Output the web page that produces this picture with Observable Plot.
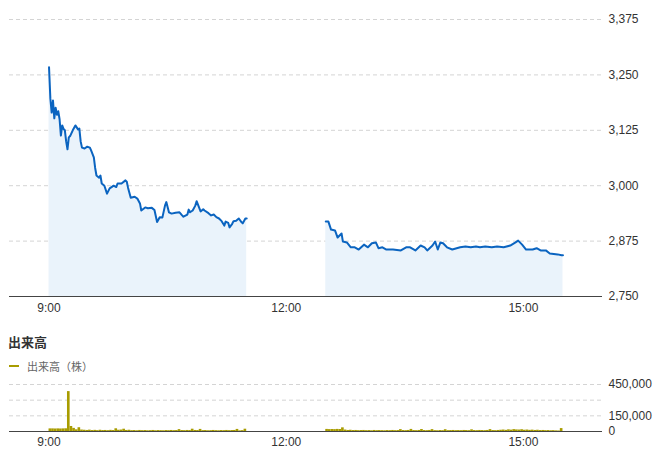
<!DOCTYPE html>
<html><head><meta charset="utf-8">
<script src="https://cdn.jsdelivr.net/npm/d3@7"></script>
<script src="https://cdn.jsdelivr.net/npm/@observablehq/plot@0.6"></script>
<style>
body{margin:0;background:#fff;font-family:Arial,"Liberation Sans","Noto Sans CJK JP",sans-serif;}
#wrap{position:relative;width:660px;height:456px;overflow:hidden}
#price{position:absolute;left:0;top:0}
#vtitle{position:absolute;left:8px;top:334px;font-size:13px;line-height:16px;font-weight:bold;color:#333;font-family:"Noto Sans CJK JP",sans-serif}
#legend{position:absolute;left:9px;top:359px;font-size:11px;line-height:14px;color:#666;font-family:"Noto Sans CJK JP",sans-serif;display:flex;align-items:center}
#legend .sw{display:inline-block;width:10px;height:2px;background:#a89c00;margin-right:8px}
#vol{position:absolute;left:0;top:372px}
</style></head>
<body><div id="wrap">
<div id="price"></div>
<div id="vtitle">出来高</div>
<div id="legend"><span class="sw"></span><span>出来高（株）</span></div>
<div id="vol"></div>
</div>
<script>
// ---- data ----
const amTimes = ["9:00","9:01","9:02","9:03","9:04","9:05","9:06","9:07","9:08","9:09","9:10","9:11","9:12","9:13","9:14","9:15","9:16","9:18","9:20","9:22","9:23","9:24","9:25","9:27","9:29","9:31","9:32","9:34","9:35","9:36","9:38","9:39","9:40","9:42","9:44","9:46","9:48","9:49","9:51","9:52","9:55","9:58","9:59","10:00","10:02","10:05","10:07","10:09","10:10","10:13","10:15","10:18","10:20","10:22","10:24","10:26","10:28","10:29","10:31","10:33","10:36","10:39","10:41","10:42","10:45","10:46","10:47","10:49","10:51","10:52","10:55","10:57","10:58","11:01","11:03","11:05","11:07","11:09","11:11","11:13","11:14","11:16","11:17","11:19","11:20","11:22","11:24","11:26","11:27","11:29","11:30"];
const amPrices = [3267,3197,3165,3192,3152,3176,3160,3168,3150,3113,3136,3128,3125,3100,3082,3109,3112,3125,3136,3127,3129,3100,3086,3084,3088,3086,3079,3064,3040,3023,3018,3023,3005,3000,2982,2994,2998,3000,2997,3005,3005,3012,3009,2995,2973,2975,2971,2960,2944,2951,2949,2950,2945,2918,2929,2928,2955,2963,2940,2937,2939,2940,2933,2930,2935,2946,2940,2944,2955,2965,2942,2947,2944,2938,2933,2935,2929,2926,2920,2910,2919,2916,2906,2914,2920,2921,2926,2918,2915,2926,2926];
const pmTimes = ["12:30","12:32","12:34","12:37","12:39","12:42","12:43","12:46","12:49","12:52","12:55","12:59","13:02","13:05","13:08","13:10","13:13","13:16","13:21","13:27","13:31","13:34","13:38","13:42","13:45","13:47","13:51","13:53","13:55","13:57","13:59","14:02","14:06","14:12","14:16","14:20","14:24","14:27","14:31","14:36","14:40","14:45","14:50","14:54","14:56","14:59","15:02","15:07","15:10","15:13","15:17","15:20","15:26","15:29","15:30"];
const pmPrices = [2919,2919,2901,2899,2883,2892,2874,2872,2861,2861,2856,2867,2861,2870,2872,2859,2861,2856,2856,2854,2861,2861,2854,2865,2861,2854,2865,2874,2856,2872,2870,2861,2856,2861,2863,2861,2863,2861,2863,2861,2863,2861,2865,2872,2876,2867,2856,2856,2859,2854,2854,2847,2845,2843,2843];
const priceTicks = [2750,2875,3000,3125,3250,3375];
const timeTicks = ["9:00","12:00","15:00"];
// volume in thousands of shares, one value per 2-minute slot
const amVolStart = "9:00";
const amVol = [25,25,24,25,24,25,26,382,48,30,16,36,14,12,10,13,9,11,8,12,9,10,8,11,9,26,12,14,22,10,12,8,9,7,10,8,9,7,8,10,7,9,8,7,9,8,10,8,9,18,9,8,10,9,22,10,9,20,8,9,7,8,10,8,7,9,8,10,8,9,10,20,6,8,22];
const pmVolStart = "12:30";
const pmVol = [20,18,19,18,20,19,35,14,10,12,9,10,8,9,10,8,9,7,10,8,9,8,7,9,8,10,8,9,18,9,8,10,20,9,8,10,19,9,8,10,18,8,7,9,8,17,8,9,10,8,9,8,10,9,8,16,9,8,10,9,8,10,18,9,8,10,12,14,11,16,13,18,15,14,17,12,14,11,13,10,12,9,10,8,9,7,8,6,5,28];
const volTicks = [0,150000,450000];
const volGrid = [150000,300000,450000];

// ---- build ----
const parse = d3.timeParse("%H:%M");
const fmtT = d3.timeFormat("%-H:%M");
const price = [
  ...amTimes.map((t,i)=>({t:parse(t),p:amPrices[i],s:"am"})),
  ...pmTimes.map((t,i)=>({t:parse(t),p:pmPrices[i],s:"pm"}))
];
const mkVol = (start, arr) => arr.map((v,i)=>{
  const t = d3.timeMinute.offset(parse(start), 2*i);
  return {t, t2:d3.timeMinute.offset(t,2), v:v*1000};
});
const vol = [...mkVol(amVolStart, amVol), ...mkVol(pmVolStart, pmVol)];
const xDomain = [parse("8:30"), parse("16:00")];
const style = {fontFamily:'Arial,"Liberation Sans",sans-serif', fontSize:"12px", color:"#333", background:"transparent"};

const p1 = Plot.plot({
  width:660, height:318, marginLeft:9, marginRight:58, marginTop:19, marginBottom:22, style,
  x:{type:"time", domain:xDomain},
  y:{domain:[2750,3375]},
  marks:[
    Plot.gridY(priceTicks, {stroke:"#d4d4d4", strokeOpacity:1, strokeDasharray:"4,3"}),
    Plot.areaY(price, {x:"t", y1:2750, y2:"p", z:"s", fill:"#eaf3fb", curve:"linear"}),
    Plot.lineY(price, {x:"t", y:"p", z:"s", stroke:"#0b64c0", strokeWidth:2}),
    Plot.ruleY([2750], {stroke:"#444"}),
    Plot.axisY(priceTicks, {anchor:"right", tickSize:0, tickPadding:6, tickFormat:d3.format(","), label:null}),
    Plot.axisX(timeTicks.map(parse), {tickSize:0, tickPadding:7, tickFormat:fmtT, label:null})
  ]
});
document.getElementById("price").append(p1);

const p2 = Plot.plot({
  width:660, height:84, marginLeft:9, marginRight:58, marginTop:12, marginBottom:25, style,
  x:{type:"time", domain:xDomain},
  y:{domain:[0,450000]},
  marks:[
    Plot.gridY(volGrid, {stroke:"#d4d4d4", strokeOpacity:1, strokeDasharray:"4,3"}),
    Plot.rectY(vol, {x1:"t", x2:"t2", y:"v", fill:"#a89c00", inset:0}),
    Plot.ruleY([0], {stroke:"#444"}),
    Plot.axisY(volTicks, {anchor:"right", tickSize:0, tickPadding:6, tickFormat:d3.format(","), label:null}),
    Plot.axisX(timeTicks.map(parse), {tickSize:0, tickPadding:6, tickFormat:fmtT, label:null})
  ]
});
document.getElementById("vol").append(p2);
</script>
</body></html>
